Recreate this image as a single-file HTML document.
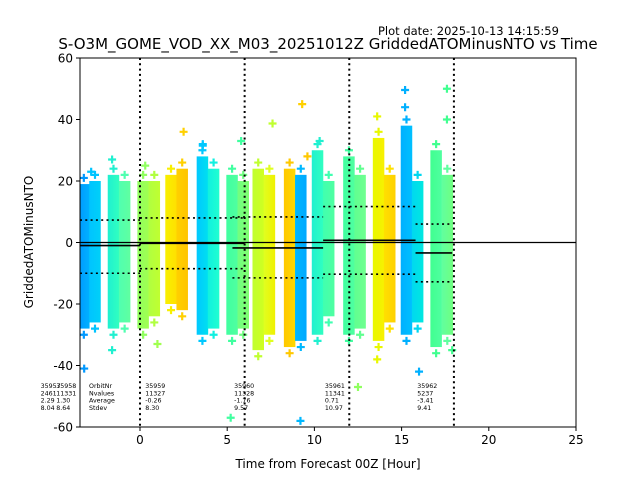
<!DOCTYPE html>
<html><head><meta charset="utf-8"><style>
body{margin:0;background:#fff;}
svg{display:block;font-family:"DejaVu Sans","Liberation Sans",sans-serif;}
</style></head><body>
<svg id="chart" width="640" height="480" xmlns="http://www.w3.org/2000/svg">
<defs id="defs"></defs>
<text x="378" y="35" font-size="11.5">Plot date: 2025-10-13 14:15:59</text>
<text x="328" y="49" font-size="15" text-anchor="middle">S-O3M_GOME_VOD_XX_M03_20251012Z GriddedATOMinusNTO vs Time</text>
<g id="plot"></g>
<text x="328" y="468" font-size="12" text-anchor="middle">Time from Forecast 00Z [Hour]</text>
<text transform="translate(33,242) rotate(-90)" font-size="12" text-anchor="middle">GriddedATOMinusNTO</text>
</svg>
<script>
const colX=[-3.22,-2.58,-1.52,-0.88,0.18,0.82,1.78,2.42,3.58,4.22,5.28,5.92,6.78,7.42,8.58,9.22,10.18,10.82,11.98,12.62,13.68,14.32,15.28,15.92,16.98,17.62];
const colTop=[19,20,22,20,20,20,22,24,28,24,22,20,24,22,24,22,30,20,28,22,34,22,38,20,30,22];
const colBot=[-28,-26,-28,-26,-28,-24,-20,-22,-30,-28,-30,-28,-35,-30,-34,-32,-30,-24,-30,-28,-32,-26,-30,-26,-34,-30];
const colC1=["#0098ff","#00c4ff","#20f0d0","#50ffb0","#90ff60","#b0ff40","#f8f000","#ffd000","#00c8ff","#10f0e0","#40ffa0","#70ff80","#c0ff30","#e0ff20","#ffc800","#00b8ff","#20f0d0","#40ffb0","#40ffa0","#60ff90","#e8f800","#ffe000","#00b0ff","#00d8f0","#40ff90","#60ffa0"];
const colC2=["#00b0ff","#00d0f8","#30ffc0","#60ffa0","#a0ff50","#c0ff30","#ffe000","#ffc400","#00e0f0","#20ffd0","#50ffa0","#80ff70","#d0ff20","#f0f000","#ffd800","#00a8ff","#30ffc0","#50ffa0","#50ffa0","#70ff90","#f8f000","#ffd000","#00c0ff","#00e8e0","#50ffa0","#70ff80"];
const outX=[9.3,17.6,15.2,2.5,13.6,7.6,5.8,9.2,5.2,12.5,16,-3.2,13.6,-1.6,17.9,3.6,10.3,1.0,15.2,17.6,-2.8,0.3,3.6,-1.6,9.6];
const outY=[45,50,49.6,36,41,38.7,33,-58,-57,-47,-42,-41,-38,-35,-35,31.5,33,-33,44,40,23,25,32,27,28];
const outC=["#ffd000","#40ff90","#00b0ff","#ffd000","#e8f800","#c0ff30","#40ffa0","#00b8ff","#40ffa0","#90ff60","#00b0ff","#0098ff","#e8f800","#20f0d0","#40ff90","#00c8ff","#20f0d0","#a0ff50","#00b0ff","#40ff90","#00c4ff","#90ff60","#00c8ff","#20f0d0","#ffc800"];
const segStart=[-3.44,0,5.3,10.5,15.8];
const segEnd=[0,6,10.5,15.8,17.9];
const segMean=[-1.0,-0.26,-1.76,0.71,-3.41];
const segUp=[7.3,8.0,8.3,11.7,6.0];
const segLo=[-10,-8.5,-11.5,-10.3,-12.8];
const xTicks=[0,5,10,15,20,25];
const yTicks=[-60,-40,-20,0,20,40,60];
const vLines=[0,6,12,18];
const statLabels=["OrbitNr","Nvalues","Average","Stdev"];
const statX=[-5.7,-4.8,0.3,5.4,10.6,15.9];
const statRows=[["35957","2461","2.29","8.04"],["35958","11331","1.30","8.64"],["35959","11327","-0.26","8.30"],["35960","11328","-1.76","9.57"],["35961","11341","0.71","10.97"],["35962","5237","-3.41","9.41"]];

const L=80,R=576,T=58,B=427,XMIN=-3.44,XMAX=25,YMIN=-60,YMAX=60;
const xs=v=>L+(v-XMIN)/(XMAX-XMIN)*(R-L);
const ys=v=>B-(v-YMIN)/(YMAX-YMIN)*(B-T);
const NS="http://www.w3.org/2000/svg";
const g=document.getElementById('plot');
const defs=document.getElementById('defs');
function mk(t,a,p){const e=document.createElementNS(NS,t);for(const k in a)e.setAttribute(k,a[k]);(p||g).appendChild(e);return e;}
const cp=mk('clipPath',{id:'clip'},defs);mk('rect',{x:L,y:T,width:R-L,height:B-T},cp);
const cg=mk('g',{'clip-path':'url(#clip)'});
const W=0.33;
colX.forEach((x,i)=>{
  const gr=mk('linearGradient',{id:'gr'+i,x1:'0',x2:'1',y1:'0',y2:'0'},defs);
  mk('stop',{offset:'0','stop-color':colC1[i]},gr);mk('stop',{offset:'1','stop-color':colC2[i]},gr);
  const r=mk('rect',{x:xs(x-W),y:ys(colTop[i]),width:xs(x+W)-xs(x-W),height:ys(colBot[i])-ys(colTop[i]),fill:'url(#gr'+i+')'},cg);
  
  
  [colTop[i]+2,colBot[i]-2].forEach(v=>{
    const p=mk('path',{d:`M${xs(x)-4},${ys(v)}h8M${xs(x)},${ys(v)-4}v8`,stroke:colC1[i],'stroke-width':2.2},cg);
    
    
  });
});
outX.forEach((x,i)=>{
  const p=mk('path',{d:`M${xs(x)-4},${ys(outY[i])}h8M${xs(x)},${ys(outY[i])-4}v8`,stroke:outC[i],'stroke-width':2.2},cg);
  
  
});
const z=mk('line',{x1:L,x2:R,y1:ys(0),y2:ys(0),stroke:'#000','stroke-width':1.3});


segStart.forEach((s,i)=>{
  const m=mk('line',{x1:xs(s),x2:xs(segEnd[i]),y1:ys(segMean[i]),y2:ys(segMean[i]),stroke:'#000','stroke-width':1.6});
  
  
  [segUp[i],segLo[i]].forEach(v=>{
    const d=mk('line',{x1:xs(s),x2:xs(segEnd[i]),y1:ys(v),y2:ys(v),stroke:'#000','stroke-width':1.6,'stroke-dasharray':'2,3.3'});
    
    
  });
});
vLines.forEach(v=>{
  const l=mk('line',{x1:xs(v),x2:xs(v),y1:T,y2:B,stroke:'#000','stroke-width':2,'stroke-dasharray':'2,3.3'});
  
  
});
const fr=mk('rect',{x:L,y:T,width:R-L,height:B-T,fill:'none',stroke:'#000','stroke-width':1});


xTicks.forEach(v=>{
  mk('line',{x1:xs(v),x2:xs(v),y1:B,y2:B+4,stroke:'#000'});
  const t=mk('text',{x:xs(v),y:B+17,'font-size':12,'text-anchor':'middle'});t.textContent=v;
  
  
});
yTicks.forEach(v=>{
  mk('line',{x1:L-4,x2:L,y1:ys(v),y2:ys(v),stroke:'#000'});
  const t=mk('text',{x:L-7,y:ys(v)+4.5,'font-size':12,'text-anchor':'end'});t.textContent=v;
  
  
});
statLabels.forEach((s,r)=>{
  const t=mk('text',{x:89,y:388+r*7.3,'font-size':6.3});t.textContent=s;
  
  
});
statRows.forEach((row,c)=>{
  row.forEach((s,r)=>{
    const t=mk('text',{x:xs(statX[c]),y:388+r*7.3,'font-size':6.3});t.textContent=s;
    
    
  });
});
</script>
</body></html>
